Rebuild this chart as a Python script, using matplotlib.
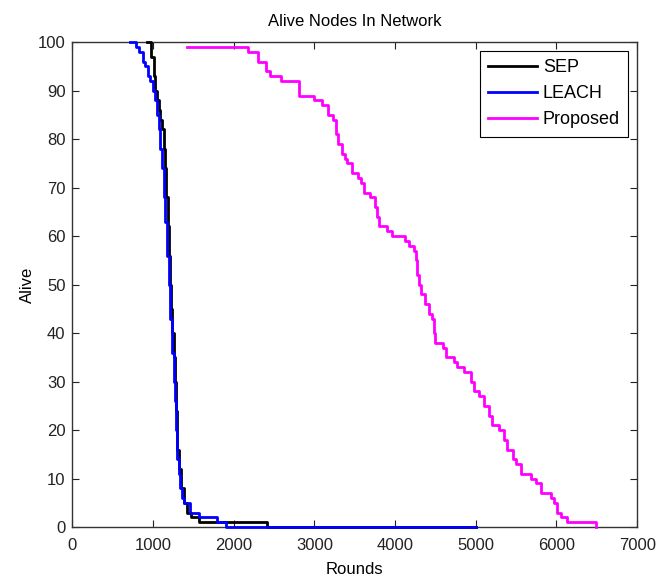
import matplotlib
matplotlib.use("Agg")
import matplotlib.pyplot as plt

plt.rcParams["font.family"] = ["Liberation Sans", "DejaVu Sans"]

# SEP
sep_rounds = [925, 980, 1010, 1030, 1050, 1070, 1090, 1110, 1130, 1150, 1165, 1180, 1195, 1210,
              1225, 1240, 1255, 1270, 1285, 1300, 1320, 1345, 1380, 1420, 1470, 1567, 2414, 5000]
sep_alive = [100, 97, 93, 90, 88, 86, 84, 82, 78, 74, 68, 62, 56, 50,
             45, 40, 35, 30, 24, 16, 12, 8, 5, 3, 2, 1, 0, 0]

# LEACH
leach_rounds = [720, 790, 823, 870, 905, 940, 968, 1000, 1030, 1050, 1071, 1090, 1112, 1135, 1154, 1175,
                1195, 1215, 1236, 1255, 1270, 1285, 1300, 1320, 1340, 1360, 1381, 1464, 1567, 1794, 1906, 5000]
leach_alive = [100, 99, 98, 96, 95, 93, 92, 90, 88, 85, 82, 78, 74, 68, 63, 56,
               50, 43, 36, 30, 26, 20, 14, 11, 8, 6, 5, 3, 2, 1, 0, 0]

# Proposed
prop_rounds = [1420, 2180, 2300, 2395, 2455, 2580, 2815, 2995, 3095, 3165, 3230, 3265, 3290, 3340, 3380, 3405,
               3460, 3545, 3580, 3615, 3690, 3750, 3770, 3800, 3900, 3960, 4125, 4175, 4235, 4255, 4275, 4300,
               4325, 4375, 4420, 4460, 4480, 4500, 4595, 4635, 4730, 4770, 4855, 4935, 4980, 5040, 5100, 5165,
               5205, 5290, 5350, 5390, 5455, 5495, 5560, 5680, 5745, 5805, 5930, 5970, 6010, 6055, 6135, 6490]
prop_alive = [99, 98, 96, 94, 93, 92, 89, 88, 87, 85, 84, 81, 79, 77, 76, 75,
              73, 72, 71, 69, 68, 66, 64, 62, 61, 60, 59, 58, 57, 55, 52, 50,
              48, 46, 44, 43, 40, 38, 37, 35, 34, 33, 32, 30, 28, 27, 25, 23,
              21, 20, 18, 16, 14, 13, 11, 10, 9, 7, 6, 5, 3, 2, 1, 0]

fig = plt.figure(figsize=(6.7, 5.78), dpi=100)
ax = fig.add_axes([0.108, 0.088, 0.843, 0.839])

ax.plot(sep_rounds, sep_alive, color="black", lw=2, drawstyle="steps-post", label="SEP",
        clip_on=False, zorder=3)
ax.plot(leach_rounds, leach_alive, color="#0000ff", lw=2, drawstyle="steps-post", label="LEACH",
        clip_on=False, zorder=3)
ax.plot(prop_rounds, prop_alive, color="#ff00ff", lw=2, drawstyle="steps-post", label="Proposed",
        clip_on=False, zorder=3)

ax.set_xlim(0, 7000); ax.set_ylim(0, 100)
ax.set_xticks(range(0, 7001, 1000)); ax.set_yticks(range(0, 101, 10))
ax.tick_params(direction="in", top=True, right=True, length=5, labelsize=12, colors="#222222")
ax.tick_params(axis="x", pad=8)
ax.tick_params(axis="y", pad=5)
for s in ax.spines.values():
    s.set_color("#333333"); s.set_linewidth(1)

ax.set_title("Alive Nodes In Network", fontsize=12, pad=12)
ax.set_xlabel("Rounds", fontsize=12, labelpad=6)
ax.set_ylabel("Alive", fontsize=12, labelpad=2)

leg = ax.legend(loc="upper right", fancybox=False, framealpha=1, edgecolor="black", fontsize=13,
                handlelength=2.75, handletextpad=0.3, borderaxespad=0.5, labelspacing=0.5,
                borderpad=0.45)
leg.get_frame().set_linewidth(0.8)

fig.savefig("out.png", dpi=100)
